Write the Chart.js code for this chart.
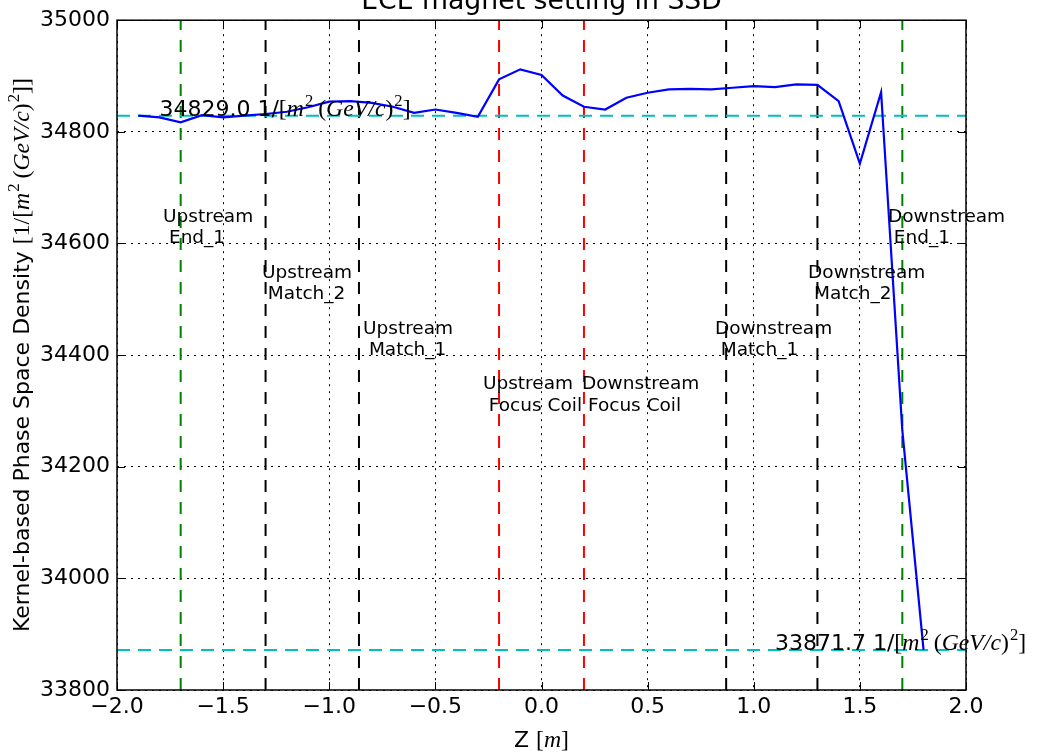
<!DOCTYPE html>
<html><head><meta charset="utf-8">
<script src="https://cdn.jsdelivr.net/npm/chart.js@4/dist/chart.umd.min.js"></script>
<style>html,body{margin:0;padding:0;background:#fff}canvas{display:block}</style>
</head><body>
<canvas id="c" width="1039" height="755"></canvas>
<script>
// ---- data ----
const zPositions = [-1.9,-1.8,-1.7,-1.6,-1.5,-1.4,-1.3,-1.2,-1.1,-1.0,-0.9,-0.8,-0.7,-0.6,-0.5,-0.4,-0.3,-0.2,-0.1,0.0,
                    0.1,0.2,0.3,0.4,0.5,0.6,0.7,0.8,0.9,1.0,1.1,1.2,1.3,1.4,1.5,1.6,1.7,1.8];
const densityValues = [34829.0,34826,34817,34830,34826,34829,34832,34836,34844,34854,34855,34852,34845,34834,34840,34834,34827,34894,34912,34902,
                       34865,34845,34840,34861,34870,34876,34877,34876,34879,34882,34880,34885,34884,34855,34743,34871,34265,33871.7];
const xTickValues = [-2.0,-1.5,-1.0,-0.5,0.0,0.5,1.0,1.5,2.0];
const yTickValues = [33800,34000,34200,34400,34600,34800,35000];
const startValue = 34829.0;
const endValue = 33871.7;
const magnetZ = [-1.7,-1.3,-0.86,-0.2,0.2,0.87,1.3,1.7];
const magnetColors = ['#008000','#000000','#000000','#ff0000','#ff0000','#000000','#000000','#008000'];
const magnetLabels = [['Upstream',' End_1'],['Upstream',' Match_2'],['Upstream',' Match_1'],['Upstream',' Focus Coil'],
                      ['Downstream',' Focus Coil'],['Downstream',' Match_1'],['Downstream',' Match_2'],['Downstream',' End_1']];
const labelAnchorZ = [-1.783,-1.317,-0.841,-0.276,0.191,0.817,1.256,1.632];
const labelAnchorY = [34600,34500,34400,34300,34300,34400,34500,34600];
const startLabelZ = -1.8;
const endLabelZ = 1.1;

// ---- styling ----
const SANS = '"DejaVu Sans", sans-serif';
const SERIF = '"Liberation Serif", "DejaVu Serif", serif';

function fmtX(v){ return (v < 0 ? '\u2212' : '') + Math.abs(v).toFixed(1); }

function unitSegs(prefix){
  return [
    {t: prefix, f:'sans'},
    {t:'[', f:'rm'}, {t:'m', f:'it'}, {t:'2', f:'rm', sup:true}, {gap:5},
    {t:'(', f:'rm'}, {t:'GeV/c', f:'it'}, {t:')', f:'rm'}, {t:'2', f:'rm', sup:true}, {t:']', f:'rm'}
  ];
}
function segFont(s, size){
  const ms = size*1.08;
  if (s.f === 'sans') return (s.sup? size*0.7 : size) + 'px ' + SANS;
  const sz = s.sup ? ms*0.7 : ms;
  return (s.f === 'it' ? 'italic ' : '') + sz + 'px ' + SERIF;
}
function drawRich(ctx, segs, x, y, size, align){
  ctx.save();
  ctx.textBaseline = 'alphabetic';
  ctx.textAlign = 'left';
  let w = 0; const widths = [];
  for (const s of segs){
    if (s.gap){ widths.push(s.gap); w += s.gap; continue; }
    ctx.font = segFont(s, size);
    const mw = ctx.measureText(s.t).width + (s.sup ? 1 : 0);
    widths.push(mw); w += mw;
  }
  let cx = align === 'center' ? x - w/2 : x;
  segs.forEach((s, i) => {
    if (!s.gap){
      ctx.font = segFont(s, size);
      ctx.fillText(s.t, cx + (s.sup?1:0), s.sup ? y - size*0.45 : y);
    }
    cx += widths[i];
  });
  ctx.restore();
}

const datasets = [{
  data: zPositions.map((z,i)=>({x:z, y:densityValues[i]})),
  borderColor:'#0000ff', borderWidth:2.2, pointRadius:0, showLine:true, tension:0, fill:false
}];
[startValue, endValue].forEach(v => datasets.push({
  data:[{x:-2,y:v},{x:2,y:v}], borderColor:'#00bfbf', borderWidth:2, borderDash:[13,8],
  pointRadius:0, showLine:true, fill:false
}));
magnetZ.forEach((z,i) => datasets.push({
  data:[{x:z,y:33800},{x:z,y:35000}], borderColor:magnetColors[i], borderWidth:2, borderDash:[12,10],
  pointRadius:0, showLine:true, fill:false
}));

const decor = {
  id:'decor',
  afterDraw(chart){
    const ctx = chart.ctx, a = chart.chartArea;
    const xs = chart.scales.x, ys = chart.scales.y;
    ctx.save();
    // spines
    ctx.strokeStyle = '#000'; ctx.lineWidth = 1.5;
    ctx.strokeRect(a.left, a.top, a.right-a.left, a.bottom-a.top);
    // inward ticks
    ctx.lineWidth = 1;
    const TL = 8;
    ctx.beginPath();
    xTickValues.forEach(v => {
      const px = Math.round(xs.getPixelForValue(v)) + 0.5;
      ctx.moveTo(px, a.bottom); ctx.lineTo(px, a.bottom - TL);
      ctx.moveTo(px, a.top); ctx.lineTo(px, a.top + TL);
    });
    yTickValues.forEach(v => {
      const py = Math.round(ys.getPixelForValue(v)) + 0.5;
      ctx.moveTo(a.left, py); ctx.lineTo(a.left + TL, py);
      ctx.moveTo(a.right, py); ctx.lineTo(a.right - TL, py);
    });
    ctx.stroke();
    // magnet labels
    ctx.fillStyle = '#000';
    ctx.font = '18.5px ' + SANS;
    ctx.textAlign = 'left'; ctx.textBaseline = 'alphabetic';
    magnetLabels.forEach((lines, i) => {
      const px = xs.getPixelForValue(labelAnchorZ[i]);
      const py = ys.getPixelForValue(labelAnchorY[i]);
      ctx.fillText(lines[0], px, py - 21.5);
      ctx.fillText(lines[1], px, py);
    });
    // value annotations
    drawRich(ctx, unitSegs(startValue.toFixed(1) + ' 1/'), xs.getPixelForValue(startLabelZ), ys.getPixelForValue(startValue), 22, 'left');
    drawRich(ctx, unitSegs(endValue.toFixed(1) + ' 1/'), xs.getPixelForValue(endLabelZ), ys.getPixelForValue(endValue), 22, 'left');
    // title (partly cut by top edge)
    ctx.font = '26.7px ' + SANS; ctx.textAlign = 'center';
    ctx.fillText('ECE magnet setting in SSD', (a.left+a.right)/2, 9);
    // x label
    ctx.textAlign = 'left';
    const xl = [{t:'Z ', f:'sans'},{t:'[', f:'rm'},{t:'m', f:'it'},{t:']', f:'rm'}];
    drawRich(ctx, xl, (a.left+a.right)/2, 747, 22, 'center');
    // y label
    ctx.save();
    ctx.translate(29, (a.top+a.bottom)/2);
    ctx.rotate(-Math.PI/2);
    const yl = [{t:'Kernel-based Phase Space Density ', f:'sans'},{t:'[1/', f:'rm'}].concat(unitSegs('').slice(1), [{t:']', f:'rm'}]);
    drawRich(ctx, yl, 0, 0, 22, 'center');
    ctx.restore();
    ctx.restore();
  }
};

new Chart(document.getElementById('c'), {
  type:'scatter',
  data:{datasets},
  options:{
    responsive:false, animation:false, devicePixelRatio:1,
    layout:{padding:{left:0, right:73, top:18, bottom:0}},
    plugins:{legend:{display:false}, tooltip:{enabled:false}, title:{display:false}},
    scales:{
      x:{
        type:'linear', min:-2, max:2,
        afterBuildTicks(s){ s.ticks = xTickValues.map(v=>({value:v})); },
        afterFit(s){ s.height = 65; },
        ticks:{ callback:v=>fmtX(v), color:'#000', font:{family:SANS, size:22}, padding:4, maxRotation:0, autoSkip:false },
        grid:{ color:'#000', lineWidth:1, drawTicks:false },
        border:{ display:false, dash:[2,5] }
      },
      y:{
        type:'linear', min:33800, max:35000,
        afterBuildTicks(s){ s.ticks = yTickValues.map(v=>({value:v})); },
        afterFit(s){ s.width = 117; },
        ticks:{ callback:v=>String(v), color:'#000', font:{family:SANS, size:22}, padding:7, autoSkip:false },
        grid:{ color:'#000', lineWidth:1, drawTicks:false },
        border:{ display:false, dash:[2,5] }
      }
    }
  },
  plugins:[decor]
});
</script>
</body></html>
